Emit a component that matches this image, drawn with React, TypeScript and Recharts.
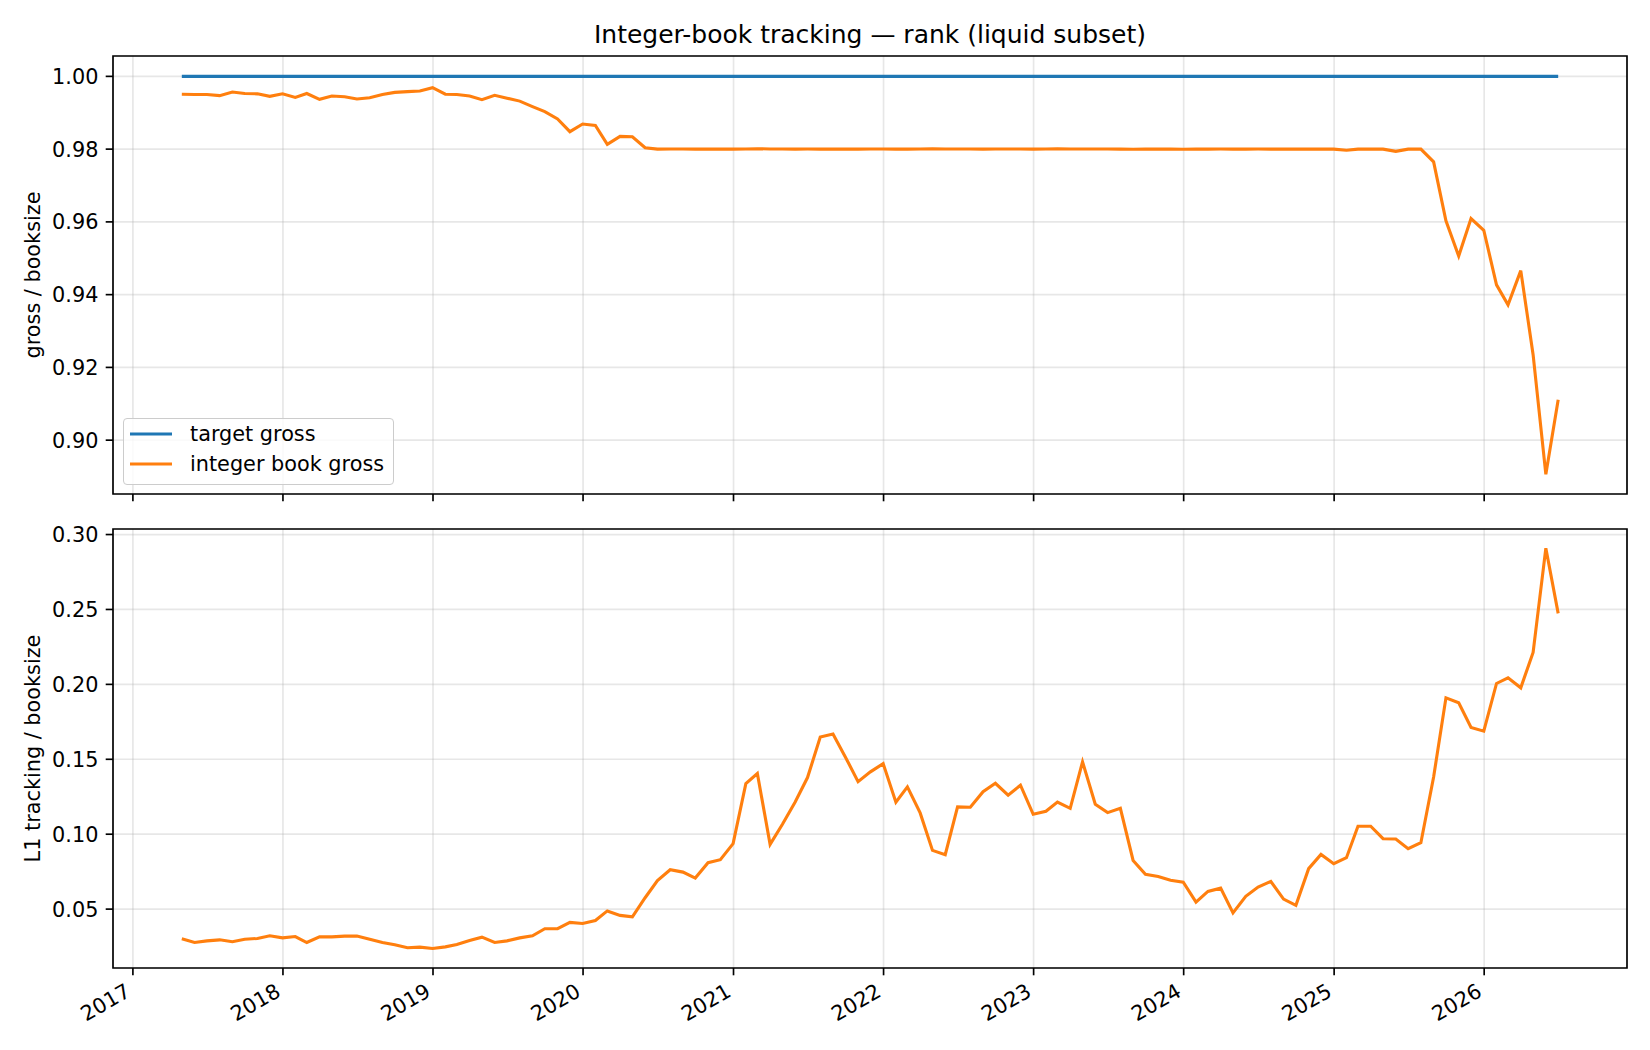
import React from "react"
import {
  LineChart,
  Line,
  XAxis,
  YAxis,
  CartesianGrid,
  ReferenceArea,
  Legend,
} from "recharts"

// month-end observations, 2017-04-30 .. 2026-06-30
const FIRST_YEAR = 2017
const FIRST_MONTH = 4
const N_MONTHS = 111
const monthEnds = Array.from({ length: N_MONTHS }, (_, i) =>
  Date.UTC(FIRST_YEAR, FIRST_MONTH + i, 0)
)

const TARGET_GROSS = 1.0

const integerBookGross = [
  0.9951, 0.995, 0.995, 0.9947, 0.9957, 0.9953, 0.9952, 0.9945, 0.9952, 0.9942,
  0.9953, 0.9937, 0.9946, 0.9944, 0.9938, 0.9941, 0.995, 0.9956, 0.9958, 0.996,
  0.9969, 0.9951, 0.995, 0.9946, 0.9936, 0.9948, 0.994, 0.9932, 0.9917, 0.9903,
  0.9883, 0.9848, 0.9869, 0.9865, 0.9813, 0.9835, 0.9834, 0.9804, 0.98,
  0.98003, 0.98002, 0.98, 0.98, 0.98, 0.98, 0.98005, 0.98012, 0.98004, 0.98002,
  0.98, 0.98002, 0.98, 0.98, 0.98001, 0.98, 0.98002, 0.98002, 0.98001, 0.98,
  0.98005, 0.98012, 0.98003, 0.98004, 0.98002, 0.98, 0.98002, 0.98003, 0.98004, 0.98001,
  0.98004, 0.9801, 0.98002, 0.98002, 0.98003, 0.98002, 0.98, 0.97998, 0.98, 0.98,
  0.98, 0.97998, 0.98, 0.98, 0.98002, 0.98, 0.98001, 0.98002, 0.98, 0.98,
  0.98001, 0.98, 0.98,
  0.98, 0.9797, 0.98, 0.98, 0.98, 0.9794, 0.98, 0.98, 0.9765, 0.9603,
  0.9506, 0.9609, 0.9577, 0.9427, 0.9372, 0.9466, 0.9235, 0.8906, 0.9111,
]

const l1Tracking = [
  0.0302, 0.0277, 0.0288, 0.0295, 0.0282, 0.0299, 0.0304, 0.0322, 0.0308, 0.0317,
  0.0277, 0.0315, 0.0315, 0.032, 0.032, 0.0299, 0.0277, 0.0262, 0.0242, 0.0246,
  0.0237, 0.0248, 0.0264, 0.0291, 0.0313, 0.0277, 0.0288, 0.0308, 0.0322, 0.0369,
  0.0369, 0.0411, 0.0404, 0.0424,
  0.0488, 0.0458, 0.0448, 0.0576, 0.069, 0.0763, 0.0747, 0.0707, 0.081, 0.083,
  0.0937, 0.1338, 0.1405, 0.0932, 0.1066, 0.1215, 0.1378, 0.1648, 0.1668, 0.1516,
  0.1351, 0.1416, 0.1471, 0.1213, 0.1316, 0.1142, 0.0892, 0.0863, 0.1182, 0.118,
  0.1284, 0.134, 0.126, 0.1327, 0.1133, 0.1153, 0.1215, 0.1173, 0.1483, 0.12,
  0.1144, 0.1173, 0.0825, 0.0732, 0.0718,
  0.0692, 0.068, 0.0547, 0.0618, 0.064, 0.0475, 0.0585, 0.0647, 0.0685, 0.0567,
  0.0525, 0.077, 0.0865, 0.0803, 0.0843, 0.1053, 0.1053, 0.097, 0.0968, 0.0903,
  0.0943, 0.1382, 0.191, 0.1877, 0.1712, 0.1688, 0.2006, 0.2044, 0.1977, 0.2213,
  0.2909, 0.2474,
]

const tickYears = [2017, 2018, 2019, 2020, 2021, 2022, 2023, 2024, 2025, 2026]
const grossTicks = [0.9, 0.92, 0.94, 0.96, 0.98, 1.0]
const trackingTicks = [0.05, 0.1, 0.15, 0.2, 0.25, 0.3]

const BLUE = "#1f77b4"
const ORANGE = "#ff7f0e"
const FONT = "'DejaVu Sans', sans-serif"
const FS = 20.8

const yearTicks = tickYears.map((y) => Date.UTC(y, 0, 1))
const span = monthEnds[N_MONTHS - 1] - monthEnds[0]
const xDomain: [number, number] = [monthEnds[0] - 0.05 * span, monthEnds[N_MONTHS - 1] + 0.05 * span]
const grossDomain: [number, number] = [0.8852, 1.0056]
const trackingDomain: [number, number] = [0.0107, 0.3037]

const grossData = monthEnds.map((t, i) => ({
  t,
  target: TARGET_GROSS,
  gross: integerBookGross[i],
}))
const trackingData = monthEnds.map((t, i) => ({ t, l1: l1Tracking[i] }))

const legendItems = [
  { label: "target gross", color: BLUE },
  { label: "integer book gross", color: ORANGE },
]

function GrossLegend() {
  return (
    <div
      style={{
        width: 271,
        height: 67,
        boxSizing: "border-box",
        border: "1.7px solid #cccccc",
        borderRadius: 4,
        background: "rgba(255,255,255,0.8)",
        position: "relative",
        fontFamily: FONT,
      }}
    >
      {legendItems.map((it, k) => (
        <div
          key={it.label}
          style={{
            position: "absolute",
            left: 6,
            top: 0 + 30 * k,
            height: 30,
            display: "flex",
            alignItems: "center",
          }}
        >
          <svg width={42} height={6}>
            <line x1={0} y1={3} x2={42} y2={3} stroke={it.color} strokeWidth={3.1} />
          </svg>
          <span style={{ marginLeft: 18, fontSize: FS, color: "#000", lineHeight: "30px" }}>{it.label}</span>
        </div>
      ))}
    </div>
  )
}

function YearTick(props: any) {
  const { x, y, payload } = props
  const ax = x - 1
  const ay = y + 20
  return (
    <text
      x={ax}
      y={ay}
      transform={`rotate(-30, ${ax}, ${ay})`}
      textAnchor="end"
      fontSize={FS}
      fontFamily={FONT}
      fill="#000"
    >
      {new Date(payload.value).getUTCFullYear()}
    </text>
  )
}

function AxisTitle({ text, cx, cy }: { text: string; cx: number; cy: number }) {
  return (
    <text
      x={cx}
      y={cy}
      transform={`rotate(-90, ${cx}, ${cy})`}
      textAnchor="middle"
      dominantBaseline="central"
      fontSize={FS}
      fontFamily={FONT}
      fill="#000"
    >
      {text}
    </text>
  )
}

const tickLineStyle = { stroke: "#000", strokeWidth: 1.67 }
const tickText = { fill: "#000", fontSize: FS, fontFamily: FONT }

export default function App() {
  return (
    <div
      style={{
        position: "absolute",
        left: 0,
        top: 0,
        width: 1650,
        height: 1050,
        background: "#fff",
        fontFamily: FONT,
      }}
    >
      <div
        style={{
          position: "absolute",
          left: 113,
          width: 1514,
          top: 20,
          textAlign: "center",
          fontSize: 25,
          lineHeight: "29px",
          color: "#000",
        }}
      >
        Integer-book tracking — rank (liquid subset)
      </div>

      <div style={{ position: "absolute", left: 0, top: 0 }}>
        <LineChart
          width={1650}
          height={520}
          data={grossData}
          margin={{ top: 56, right: 23, bottom: 0, left: 0 }}
        >
          <CartesianGrid stroke="#b0b0b0" strokeOpacity={0.3} strokeWidth={1.67} />
          <XAxis
            dataKey="t"
            type="number"
            domain={xDomain}
            ticks={yearTicks}
            allowDataOverflow
            interval={0}
            height={26}
            axisLine={false}
            tickSize={7.3}
            tickLine={tickLineStyle}
            tickFormatter={() => ""}
          />
          <YAxis
            type="number"
            domain={grossDomain}
            ticks={grossTicks}
            allowDataOverflow
            interval={0}
            width={113}
            axisLine={false}
            tickSize={7.3}
            tickMargin={7.3}
            tickLine={tickLineStyle}
            tick={tickText}
            tickFormatter={(v: number) => v.toFixed(2)}
            label={{ content: () => <AxisTitle text="gross / booksize" cx={33} cy={275} /> }}
          />
          <ReferenceArea
            x1={xDomain[0]}
            x2={xDomain[1]}
            y1={grossDomain[0]}
            y2={grossDomain[1]}
            fill="none"
            stroke="#000"
            strokeWidth={1.67}
            ifOverflow="visible"
          />
          <Line
            type="linear"
            dataKey="target"
            name="target gross"
            stroke={BLUE}
            strokeWidth={3.1}
            dot={false}
            isAnimationActive={false}
          />
          <Line
            type="linear"
            dataKey="gross"
            name="integer book gross"
            stroke={ORANGE}
            strokeWidth={3.1}
            dot={false}
            isAnimationActive={false}
          />
          <Legend
            layout="vertical"
            align="center"
            verticalAlign="middle"
            content={() => <GrossLegend />}
            wrapperStyle={{ left: 123, top: 418, width: 271, height: 67 }}
          />
        </LineChart>
      </div>

      <div style={{ position: "absolute", left: 0, top: 500 }}>
        <LineChart
          width={1650}
          height={550}
          data={trackingData}
          margin={{ top: 29, right: 23, bottom: 0, left: 0 }}
        >
          <CartesianGrid stroke="#b0b0b0" strokeOpacity={0.3} strokeWidth={1.67} />
          <XAxis
            dataKey="t"
            type="number"
            domain={xDomain}
            ticks={yearTicks}
            allowDataOverflow
            interval={0}
            height={82}
            axisLine={false}
            tickSize={7.3}
            tickMargin={0}
            tickLine={tickLineStyle}
            tick={<YearTick />}
          />
          <YAxis
            type="number"
            domain={trackingDomain}
            ticks={trackingTicks}
            allowDataOverflow
            interval={0}
            width={113}
            axisLine={false}
            tickSize={7.3}
            tickMargin={7.3}
            tickLine={tickLineStyle}
            tick={tickText}
            tickFormatter={(v: number) => v.toFixed(2)}
            label={{ content: () => <AxisTitle text="L1 tracking / booksize" cx={33} cy={248.5} /> }}
          />
          <ReferenceArea
            x1={xDomain[0]}
            x2={xDomain[1]}
            y1={trackingDomain[0]}
            y2={trackingDomain[1]}
            fill="none"
            stroke="#000"
            strokeWidth={1.67}
            ifOverflow="visible"
          />
          <Line
            type="linear"
            dataKey="l1"
            stroke={ORANGE}
            strokeWidth={3.1}
            dot={false}
            isAnimationActive={false}
          />
        </LineChart>
      </div>
    </div>
  )
}
